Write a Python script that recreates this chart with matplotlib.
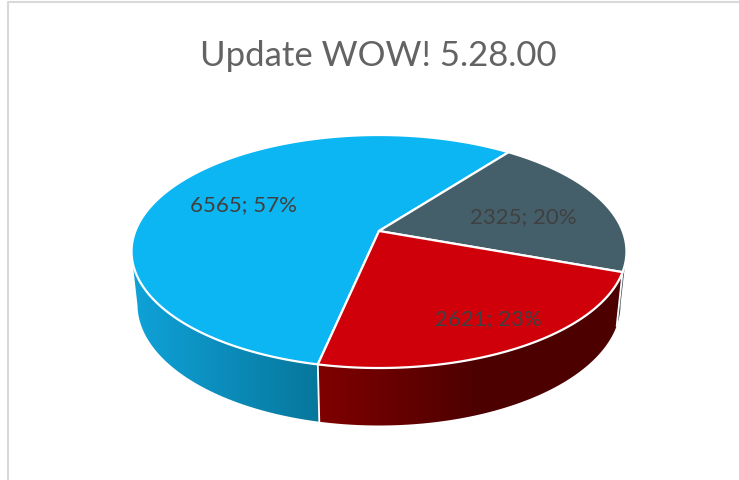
import numpy as np
import matplotlib.pyplot as plt
from matplotlib.patches import Polygon
from matplotlib.colors import LinearSegmentedColormap

names = ['blue', 'gray', 'red']
values = [6565, 2325, 2621]
top_colors = ['#0bb6f2', '#455f6a', '#d0000a']
side_colors = [['#0fa0d6', '#07779c'], ['#2d3f47', '#2d3f47'], ['#800000', '#4c0000']]
side_ranges = [[140, 318], [600, 626], [318, 480]]
title = 'Update WOW! 5.28.00'
label_pos = [[244, 205], [523, 217], [488, 319]]

# projection of the tilted disc, in pixels
cx, cy = 379, 232
a, b, k = 243.6, 112.9, 0.176
start = 258


def top_xy(t):
    u, v = np.cos(t), np.sin(t)
    w = 1 + k * v
    return cx + a * u / w, cy - b * v / w


def bottom_xy(t):
    x, y = top_xy(t)
    return cx + (x - cx) * 0.976, 284 + (y - cy) * 1.04


fig = plt.figure(figsize=(7.39, 4.81), dpi=100)
ax = fig.add_axes([0, 0, 1, 1])
ax.set_xlim(0, 739)
ax.set_ylim(481, 0)
ax.axis('off')

# frame of the chart area
ax.plot([8, 8, 739], [481, 3, 3], color='#d9d9d9', lw=1.5)

total = sum(values)
sweeps = np.array(values) / total * 2 * np.pi
ends = np.radians(start) - np.cumsum(sweeps)
starts = ends + sweeps

# sides first, only the front part of each wedge shows
for i in range(len(values)):
    t = np.linspace(starts[i], ends[i], 400)
    t = t[np.sin(t) <= -k]
    xt, yt = top_xy(t)
    xb, yb = bottom_xy(t)
    pts = np.column_stack([np.r_[xt, xb[::-1]], np.r_[yt, yb[::-1]]])
    poly = Polygon(pts, closed=True, fc='none', ec='none')
    ax.add_patch(poly)
    cmap = LinearSegmentedColormap.from_list(names[i], side_colors[i])
    x0, x1 = side_ranges[i]
    grad = np.clip((np.arange(120, 640) - x0) / (x1 - x0), 0, 1).reshape(1, -1)
    im = ax.imshow(grad, cmap=cmap, vmin=0, vmax=1, aspect='auto',
                   extent=[120, 640, 440, 120], zorder=2)
    im.set_clip_path(poly)

# seams on the side
for t in [ends[1], ends[2]]:
    xt, yt = top_xy(t)
    xb, yb = bottom_xy(t)
    ax.plot([xt, xb], [yt, yb], color='white', lw=1.3, zorder=3)

for i in range(len(values)):
    t = np.linspace(starts[i], ends[i], 200)
    xt, yt = top_xy(t)
    pts = np.column_stack([np.r_[cx, xt], np.r_[cy, yt]])
    ax.add_patch(Polygon(pts, closed=True, fc=top_colors[i], ec='white',
                         lw=1.6, joinstyle='round', zorder=4))

for i in range(len(values)):
    pct = round(100 * values[i] / total)
    ax.text(label_pos[i][0], label_pos[i][1], f'{values[i]}; {pct}%', color='#404040',
            fontsize=16, family='Lato', ha='center', va='center', zorder=5)

ax.text(378, 56, title, color='#636363', fontsize=25, family='Lato',
        ha='center', va='center')

fig.savefig('out.png', dpi=100)
